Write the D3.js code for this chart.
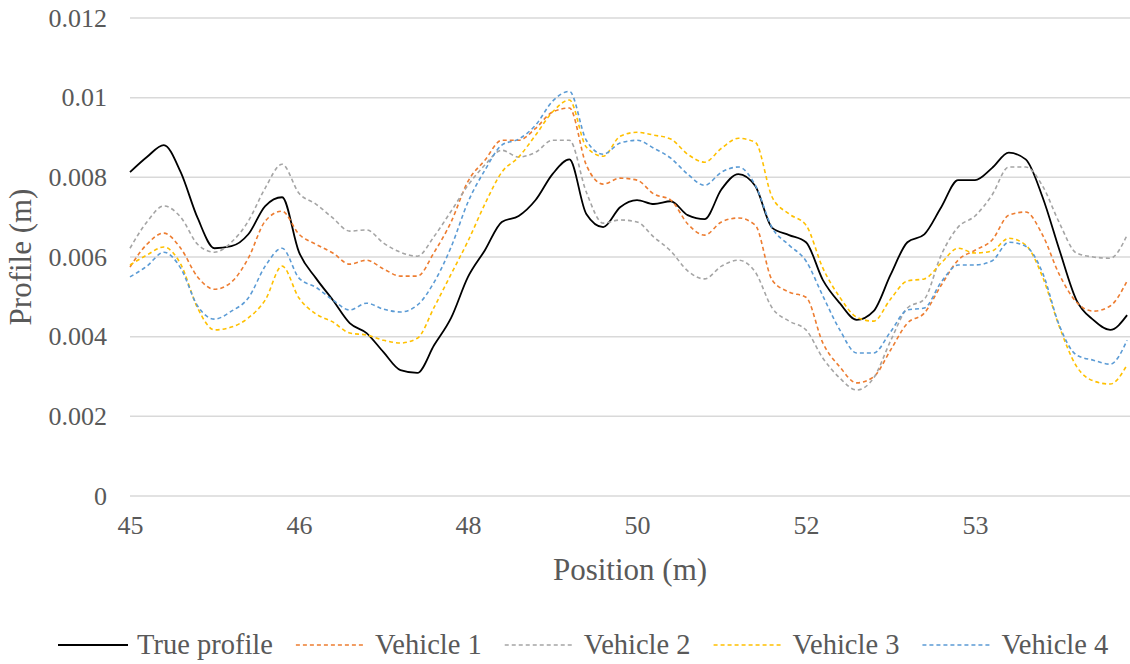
<!DOCTYPE html>
<html>
<head>
<meta charset="utf-8">
<script src="https://cdn.jsdelivr.net/npm/d3@7"></script>
<style>
  body { margin: 0; background: #fff; }
  svg text { font-family: "Liberation Serif", "Times New Roman", serif; fill: #595959; }
</style>
</head>
<body>
<div id="chart"></div>
<script>
// x tick labels (one every 10 samples)
var tickLabels = ["45", "46", "48", "50", "52", "53"];
var yTicks = [0, 0.002, 0.004, 0.006, 0.008, 0.01, 0.012];

var seriesNames = ["True profile", "Vehicle 1", "Vehicle 2", "Vehicle 3", "Vehicle 4"];
var seriesColors = ["#000000", "#ED7D31", "#A5A5A5", "#FFC000", "#5B9BD5"];

var trueProfile = [0.00813,0.00851,0.00881,0.00813,0.00698,0.00622,0.00627,0.00657,0.00728,0.0075,
  0.00612,0.00547,0.00492,0.00434,0.00409,0.00361,0.00316,0.00309,0.00379,0.00447,
  0.0055,0.00617,0.00688,0.00703,0.00743,0.00808,0.00845,0.00708,0.00675,0.00725,
  0.00743,0.00733,0.0074,0.00705,0.00695,0.0077,0.00808,0.00778,0.00673,0.00655,
  0.00637,0.00542,0.00484,0.00442,0.00464,0.00555,0.00637,0.00657,0.00725,0.00793,
  0.00793,0.00823,0.00862,0.00845,0.0075,0.00617,0.00492,0.00442,0.00417,0.00454];

var vehicle1 = [0.00575,0.00632,0.0066,0.00622,0.0055,0.00519,0.00537,0.00597,0.0069,0.00715,
  0.00657,0.00632,0.0061,0.00582,0.00592,0.0057,0.00552,0.00552,0.00612,0.00688,
  0.0079,0.00843,0.00893,0.00893,0.00923,0.00964,0.00974,0.00831,0.00783,0.00798,
  0.00793,0.00758,0.00743,0.00683,0.00655,0.00688,0.00698,0.0068,0.00542,0.00512,
  0.00499,0.00384,0.00324,0.00284,0.00299,0.00366,0.00434,0.00459,0.00529,0.00592,
  0.00617,0.00642,0.00705,0.00713,0.00655,0.00555,0.00487,0.00464,0.00477,0.0054];

var vehicle2 = [0.00622,0.00688,0.00728,0.007,0.00632,0.00612,0.00637,0.0069,0.00773,0.00833,
  0.0076,0.00733,0.00698,0.00665,0.00668,0.00635,0.00612,0.00602,0.00652,0.00715,
  0.0078,0.00831,0.00868,0.00851,0.00863,0.00893,0.00893,0.00763,0.00685,0.00693,
  0.00688,0.0065,0.00615,0.00565,0.00545,0.00577,0.00592,0.00562,0.00472,0.00439,
  0.00417,0.00346,0.00296,0.00266,0.00296,0.00389,0.00472,0.00494,0.00605,0.00675,
  0.00703,0.00755,0.00826,0.00826,0.00778,0.00685,0.0061,0.006,0.00597,0.00655];

var vehicle3 = [0.0058,0.00605,0.00625,0.00582,0.00472,0.00417,0.00424,0.00447,0.00492,0.00577,
  0.00497,0.00457,0.00437,0.00409,0.00404,0.00391,0.00384,0.00396,0.00474,0.00557,
  0.0064,0.00733,0.00813,0.00851,0.00906,0.00964,0.00994,0.00876,0.00853,0.00903,
  0.00913,0.00906,0.00896,0.00858,0.00838,0.00873,0.00898,0.00888,0.0075,0.00708,
  0.0068,0.00572,0.00499,0.00449,0.00439,0.00494,0.0054,0.00545,0.00585,0.00622,
  0.0061,0.00615,0.00647,0.0063,0.0055,0.00424,0.00326,0.00289,0.00281,0.00329];

var vehicle4 = [0.0055,0.00577,0.00612,0.00572,0.00477,0.00444,0.00464,0.00497,0.00577,0.00622,
  0.00547,0.00524,0.00492,0.00467,0.00484,0.00469,0.00462,0.00479,0.00537,0.00625,
  0.00738,0.00818,0.00881,0.00896,0.00931,0.00991,0.01016,0.00893,0.00858,0.00886,
  0.00893,0.00873,0.00848,0.00808,0.0078,0.00813,0.00826,0.0078,0.00673,0.0063,
  0.0059,0.00502,0.00417,0.00359,0.00359,0.00412,0.00467,0.00472,0.00537,0.0058,
  0.0058,0.0059,0.00637,0.00627,0.0056,0.00427,0.00354,0.00341,0.00331,0.00391];

var allSeries = [trueProfile, vehicle1, vehicle2, vehicle3, vehicle4];

var serif = "'Liberation Serif', 'Times New Roman', serif";
var width = 1130, height = 664;
var margin = {top: 18, right: 0, bottom: 168, left: 130};
var plotW = width - margin.left - margin.right,
    plotH = height - margin.top - margin.bottom;

var svg = d3.select("#chart").append("svg")
  .attr("width", width).attr("height", height)
  .attr("font-family", serif);

var g = svg.append("g")
  .attr("transform", "translate(" + margin.left + "," + margin.top + ")");

var n = trueProfile.length;
var x = d3.scaleLinear().domain([0, n - 1]).range([0, (n - 1) * 16.9]);
var y = d3.scaleLinear().domain([0, 0.012]).range([plotH, 0]);

// gridlines
g.selectAll(".grid").data(yTicks).enter().append("line")
  .attr("x1", 0).attr("x2", plotW)
  .attr("y1", function (d) { return y(d); })
  .attr("y2", function (d) { return y(d); })
  .attr("stroke", "#D9D9D9").attr("stroke-width", 1.5);

// y axis labels
var yAxis = g.append("g").call(d3.axisLeft(y).tickValues(yTicks)
  .tickFormat(function (d) { return d === 0 ? "0" : String(+d.toFixed(3)); })
  .tickSize(0).tickPadding(23));
yAxis.attr("font-family", serif).attr("font-size", 26);
yAxis.select(".domain").remove();
yAxis.selectAll("text").attr("fill", "#595959").style("font-family", serif);

// x axis labels
var xTickIdx = tickLabels.map(function (d, i) { return i * 10; });
var xAxis = g.append("g").attr("transform", "translate(0," + plotH + ")")
  .call(d3.axisBottom(x).tickValues(xTickIdx)
    .tickFormat(function (d, i) { return tickLabels[i]; })
    .tickSize(0).tickPadding(20));
xAxis.attr("font-family", serif).attr("font-size", 26);
xAxis.select(".domain").remove();
xAxis.selectAll("text").attr("fill", "#595959").style("font-family", serif);

// series lines
var line = d3.line()
  .x(function (d, i) { return x(i); })
  .y(function (d) { return y(d); })
  .curve(d3.curveMonotoneX);

allSeries.forEach(function (s, k) {
  g.append("path").datum(s)
    .attr("fill", "none")
    .attr("stroke", seriesColors[k])
    .attr("stroke-width", k === 0 ? 1.8 : 1.6)
    .attr("stroke-dasharray", k === 0 ? null : "4,3")
    .attr("d", line);
});

// axis titles
svg.append("text")
  .attr("transform", "translate(31," + (margin.top + plotH / 2) + ") rotate(-90)")
  .attr("text-anchor", "middle").style("font-size", "31px")
  .text("Profile (m)");

svg.append("text")
  .attr("x", margin.left + plotW / 2).attr("y", 580)
  .attr("text-anchor", "middle").style("font-size", "31px")
  .text("Position (m)");

// legend
var legend = svg.append("g").attr("transform", "translate(58,645)");
var lx = 0;
seriesNames.forEach(function (name, k) {
  var item = legend.append("g").attr("transform", "translate(" + lx + ",0)");
  item.append("line").attr("x1", 0).attr("x2", 70).attr("y1", 0).attr("y2", 0)
    .attr("stroke", seriesColors[k]).attr("stroke-width", k === 0 ? 1.8 : 1.6)
    .attr("stroke-dasharray", k === 0 ? null : "4,3");
  var t = item.append("text").attr("x", 79).attr("dy", "0.33em")
    .style("font-size", "28.5px").text(name);
  lx += 79 + t.node().getComputedTextLength() + 23;
});
</script>
</body>
</html>
